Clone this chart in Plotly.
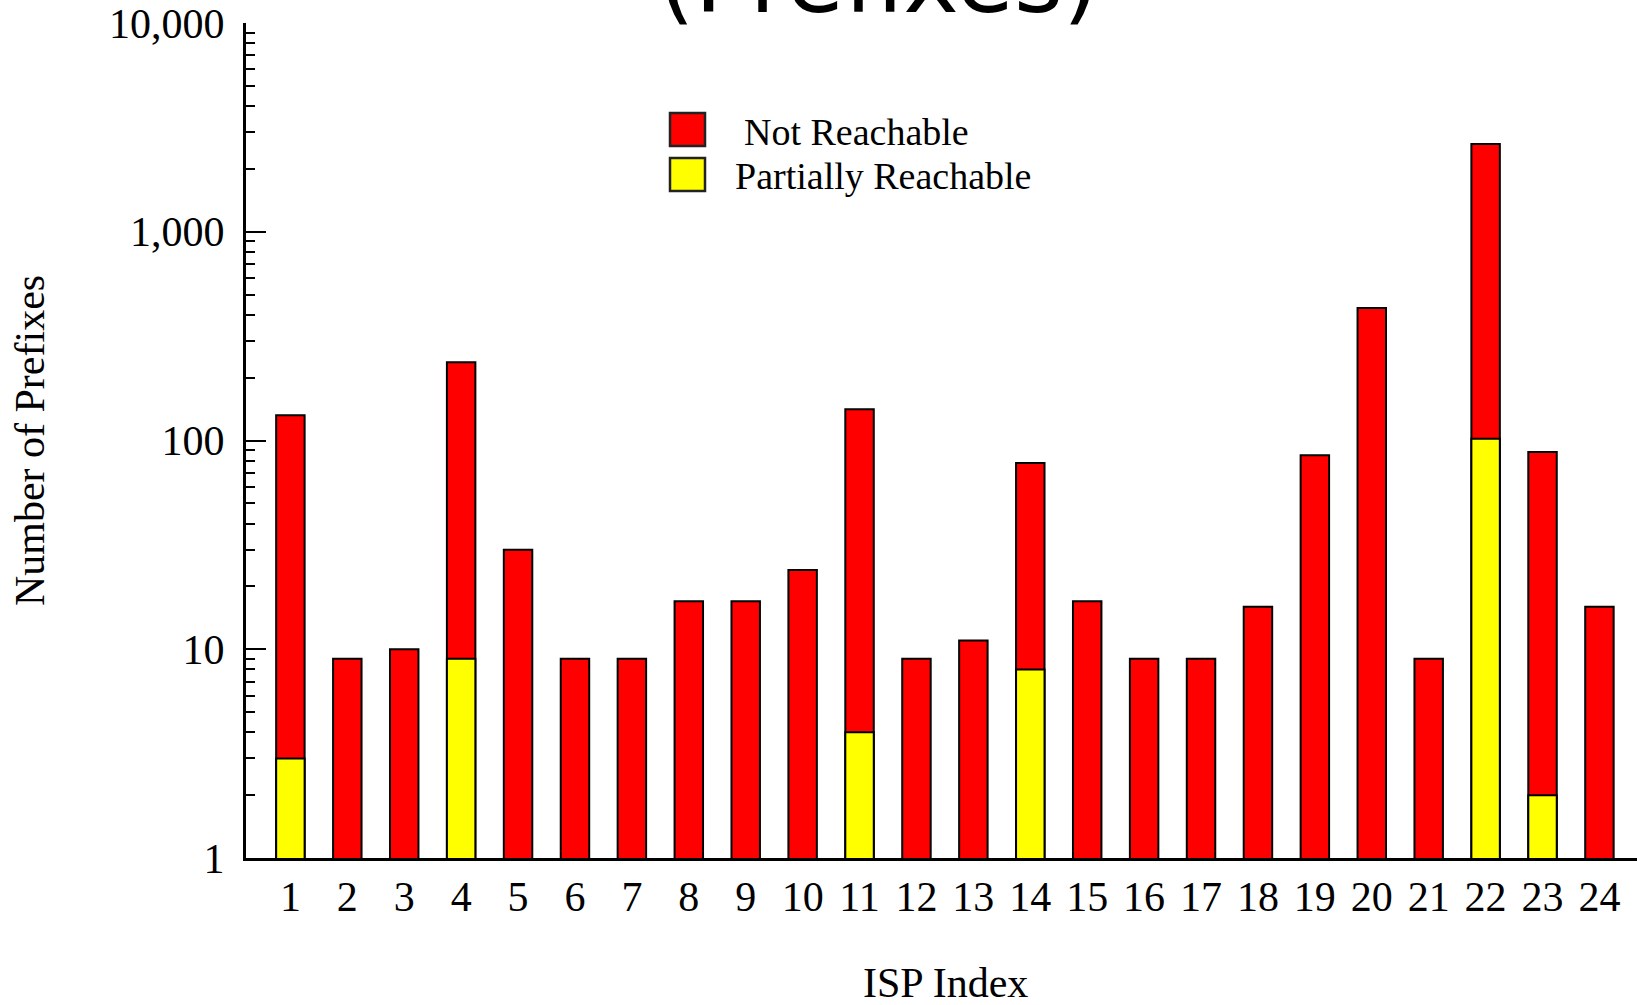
import plotly.graph_objects as go

# ISP indices and per-ISP prefix counts
isp_index = list(range(1, 25))
not_reachable = [132, 9, 10, 237, 30, 9, 9, 17, 17, 24, 141, 9,
                 11, 78, 17, 9, 9, 16, 85, 431, 9, 2630, 88, 16]
partially_reachable = [3, None, None, 9, None, None, None, None, None, None, 4, None,
                       None, 8, None, None, None, None, None, None, None, 102, 2, None]

series_names = ["Not Reachable", "Partially Reachable"]
series_colors = ["#FF0000", "#FFFF00"]

y_major = [1, 10, 100, 1000, 10000]
y_major_text = ["1", "10", "100", "1,000", "10,000"]
y_minor = [m * 10 ** d for d in range(4) for m in range(2, 10)]

SERIF = "Liberation Serif, Times New Roman, serif"

# plot area in pixels
W, H = 1637, 1005
L, R, T, B = 246, 0, 23, 147
PW, PH = W - L - R, H - T - B


def px(x):
    return (x - L) / PW


def py(y):
    return (H - B - y) / PH


fig = go.Figure()
for name, vals, col in zip(series_names, [not_reachable, partially_reachable], series_colors):
    fig.add_trace(go.Bar(
        x=isp_index, y=vals, name=name, width=0.5,
        marker=dict(color=col, line=dict(color="black", width=2)),
        showlegend=False,
    ))

# legend drawn as boxes + labels
legend_rows = [(113, 146, 742, "Not Reachable"), (158, 191, 733, "Partially Reachable")]
for (y0, y1, tx, label), col in zip(legend_rows, series_colors):
    fig.add_shape(type="rect", xref="paper", yref="paper",
                  x0=px(670), x1=px(705), y0=py(y1), y1=py(y0),
                  fillcolor=col, line=dict(color="#222", width=2.5))
    fig.add_annotation(xref="paper", yref="paper", x=px(tx), y=py((y0 + y1) / 2 + 2),
                       xanchor="left", yanchor="middle", showarrow=False,
                       text=label, font=dict(family=SERIF, size=38, color="black"))

# chart title
fig.add_annotation(xref="paper", yref="paper", x=px(879), y=py(-20),
                   xanchor="center", yanchor="middle", showarrow=False,
                   text="(Prefixes)", font=dict(family="DejaVu Sans", size=94, color="black"))

# x-axis title
fig.add_annotation(xref="paper", yref="paper", x=px(945), y=py(983),
                   xanchor="center", yanchor="middle", showarrow=False,
                   text="ISP Index", font=dict(family=SERIF, size=42, color="black"))

fig.update_layout(
    width=W, height=H,
    margin=dict(l=L, r=R, t=T, b=B, pad=0, autoexpand=False),
    paper_bgcolor="white", plot_bgcolor="white",
    barmode="overlay",
    showlegend=False,
    font=dict(family=SERIF, color="black"),
)
fig.update_xaxes(
    automargin=False,
    range=[0.22, 24.66], tickmode="array", tickvals=isp_index,
    ticks="", showgrid=False, zeroline=False,
    showline=True, linecolor="black", linewidth=3,
    tickfont=dict(family=SERIF, size=42, color="black"),
)
fig.update_yaxes(
    automargin=False,
    type="log", range=[0, 4],
    tickmode="array", tickvals=y_major, ticktext=y_major_text,
    ticks="inside", ticklen=20, tickwidth=2, tickcolor="black",
    minor=dict(tickmode="array", tickvals=y_minor, ticks="inside", ticklen=9, tickwidth=2,
               tickcolor="black", showgrid=False),
    showgrid=False, zeroline=False,
    showline=True, linecolor="black", linewidth=3,
    tickfont=dict(family=SERIF, size=42, color="black"),
    ticklabelstandoff=10,
    title=dict(text="Number of Prefixes", font=dict(family=SERIF, size=42, color="black"), standoff=52),
)

fig.write_html("out.html")
